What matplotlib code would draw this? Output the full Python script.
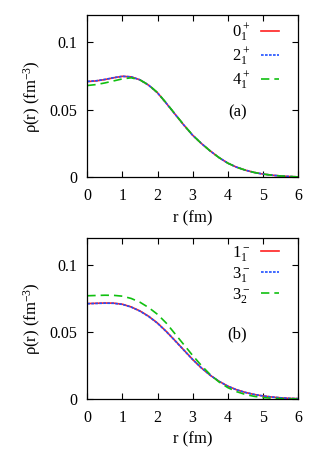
import matplotlib
matplotlib.use("Agg")
import matplotlib.pyplot as plt
from matplotlib.ticker import FixedLocator, FuncFormatter

plt.rcParams['font.family'] = ['Liberation Serif', 'DejaVu Serif']
plt.rcParams['mathtext.fontset'] = 'custom'
plt.rcParams['mathtext.rm'] = 'Liberation Serif'
plt.rcParams['mathtext.it'] = 'Liberation Serif:italic'
plt.rcParams['mathtext.default'] = 'rm'

r = [0.0, 0.25, 0.5, 0.75, 1.0, 1.25, 1.5, 1.75, 2.0, 2.25, 2.5, 2.75, 3.0,
     3.25, 3.5, 3.75, 4.0, 4.25, 4.5, 4.75, 5.0, 5.25, 5.5, 5.75, 6.0]

# panel (a)
rho_0p1 = [0.0707, 0.0712, 0.0722, 0.0735, 0.0746, 0.0742, 0.0720, 0.0680, 0.0624,
           0.0547, 0.0466, 0.0386, 0.0311, 0.0250, 0.0195, 0.0146, 0.0105, 0.0075,
           0.0053, 0.0036, 0.0024, 0.0016, 0.0010, 0.0006, 0.0003]
rho_2p1 = [0.0708, 0.0713, 0.0723, 0.0736, 0.0746, 0.0742, 0.0720, 0.0680, 0.0624,
           0.0547, 0.0466, 0.0386, 0.0311, 0.0250, 0.0195, 0.0146, 0.0105, 0.0075,
           0.0053, 0.0036, 0.0024, 0.0016, 0.0010, 0.0006, 0.0003]
rho_4p1 = [0.0678, 0.0685, 0.0697, 0.0712, 0.0727, 0.0735, 0.0719, 0.0682, 0.0626,
           0.0549, 0.0468, 0.0387, 0.0312, 0.0250, 0.0195, 0.0146, 0.0105, 0.0075,
           0.0053, 0.0036, 0.0024, 0.0016, 0.0010, 0.0006, 0.0003]

# panel (b)
rho_1m1 = [0.0710, 0.0712, 0.0714, 0.0713, 0.0705, 0.0685, 0.0655, 0.0615, 0.0565,
           0.0503, 0.0435, 0.0365, 0.0295, 0.0232, 0.0178, 0.0133, 0.0097, 0.0070,
           0.0050, 0.0035, 0.0024, 0.0016, 0.0010, 0.0006, 0.0004]
rho_3m1 = [0.0709, 0.0711, 0.0713, 0.0712, 0.0704, 0.0684, 0.0654, 0.0614, 0.0564,
           0.0502, 0.0434, 0.0364, 0.0295, 0.0232, 0.0178, 0.0133, 0.0097, 0.0070,
           0.0050, 0.0035, 0.0024, 0.0016, 0.0010, 0.0006, 0.0004]
rho_3m2 = [0.0768, 0.0770, 0.0772, 0.0771, 0.0765, 0.0748, 0.0720, 0.0680, 0.0630,
           0.0565, 0.0485, 0.0405, 0.0325, 0.0250, 0.0183, 0.0128, 0.0086, 0.0056,
           0.0035, 0.0021, 0.0012, 0.0007, 0.0004, 0.0002, 0.0001]

labels_a = [r'$0^+_1$', r'$2^+_1$', r'$4^+_1$']
labels_b = [r'$1^-_1$', r'$3^-_1$', r'$3^-_2$']
xticks = [0, 1, 2, 3, 4, 5, 6]
yticks = [0, 0.05, 0.1]

colors = ['#ff2020', '#2050ff', '#10c010']
styles = ['-', (0, (1.6, 0.8)), (0, (5, 3))]

FS = 11.5

fig = plt.figure(figsize=(3.27, 4.5), dpi=100)
ax_a = fig.add_axes([0.267, 0.606, 0.644, 0.361])
ax_b = fig.add_axes([0.267, 0.113, 0.644, 0.359])

def fmt(v, pos):
    if abs(v) < 1e-12:
        return '0'
    return ('%g' % v)

for ax, series, labels, tag in [
        (ax_a, [rho_0p1, rho_2p1, rho_4p1], labels_a, '(a)'),
        (ax_b, [rho_1m1, rho_3m1, rho_3m2], labels_b, '(b)')]:
    for ys, lab, c, ls in zip(series, labels, colors, styles):
        ax.plot(r, ys, color=c, linestyle=ls, linewidth=1.2, label=lab)
    ax.set_xlim(0, 6)
    ax.set_ylim(0, 0.12)
    ax.xaxis.set_major_locator(FixedLocator(xticks))
    ax.yaxis.set_major_locator(FixedLocator(yticks))
    ax.yaxis.set_major_formatter(FuncFormatter(fmt))
    ax.tick_params(direction='in', top=True, right=True, length=4, width=0.8,
                   labelsize=FS)
    ax.tick_params(axis='x', pad=8)
    ax.tick_params(axis='y', pad=7)
    for s in ax.spines.values():
        s.set_linewidth(0.9)
    ax.set_xlabel('r (fm)', fontsize=FS + 0.5, labelpad=4)
    ax.set_ylabel(r'ρ(r) (fm$^{-3}$)', fontsize=FS + 0.5, labelpad=5)
    ax.text(4.28, 0.048, tag, fontsize=FS + 0.5, ha='center', va='center')
    leg = ax.legend(loc='upper right', bbox_to_anchor=(0.91, 0.96),
                    frameon=False, markerfirst=False, borderpad=0,
                    fontsize=FS + 0.5, handlelength=1.1, handletextpad=0.6,
                    labelspacing=0.12, borderaxespad=0)

fig.savefig('out.png', dpi=100)
